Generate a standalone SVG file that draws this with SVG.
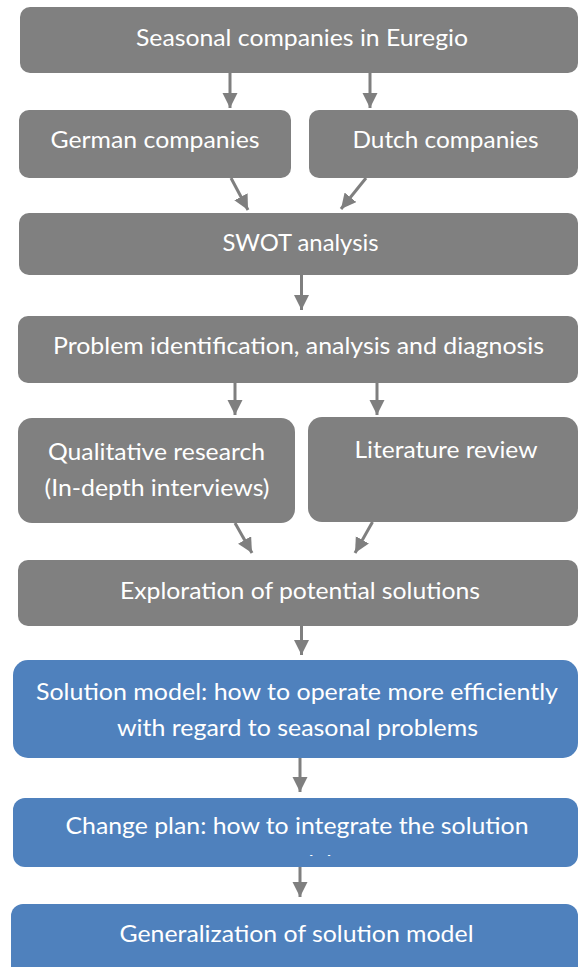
<svg xmlns="http://www.w3.org/2000/svg" width="579" height="967" viewBox="0 0 579 967">
  <defs>
    <style>
      .g { fill: #808080; }
      .b { fill: #4F81BD; }
      .t { font-family: Lato, "Open Sans", "Liberation Sans", sans-serif; font-size: 23.5px; fill: #FFFFFF; text-anchor: middle; }
      .c { stroke: #7F7F7F; stroke-width: 3; fill: none; marker-end: url(#ah); }
    </style>
    <marker id="ah" markerUnits="userSpaceOnUse" markerWidth="16" markerHeight="16" viewBox="0 0 16 16" refX="15" refY="7.5" orient="auto">
      <path d="M0,0 L15,7.5 L0,15 z" fill="#7F7F7F"/>
    </marker>
    <clipPath id="clipModel">
      <rect x="0" y="840" width="579" height="16"/>
    </clipPath>
  </defs>
  <rect x="0" y="0" width="579" height="967" fill="#FFFFFF"/>

  <g id="connectors">
    <line class="c" x1="230" y1="73" x2="230" y2="108"/>
    <line class="c" x1="370" y1="73" x2="370" y2="108"/>
    <line class="c" x1="231" y1="178" x2="248" y2="210"/>
    <line class="c" x1="366" y1="178" x2="341" y2="209"/>
    <line class="c" x1="301.5" y1="275" x2="301.5" y2="310"/>
    <line class="c" x1="235" y1="382" x2="235" y2="415"/>
    <line class="c" x1="377" y1="382" x2="377" y2="415"/>
    <line class="c" x1="235" y1="523" x2="252" y2="553"/>
    <line class="c" x1="372.5" y1="522" x2="355" y2="553"/>
    <line class="c" x1="301.5" y1="626" x2="301.5" y2="655"/>
    <line class="c" x1="300" y1="757" x2="300" y2="792"/>
    <line class="c" x1="300" y1="862" x2="300" y2="897"/>
  </g>

  <g id="n1">
    <rect class="g" x="20" y="7" width="558" height="66" rx="10"/>
    <text class="t" x="302" y="46" textLength="332" lengthAdjust="spacingAndGlyphs">Seasonal companies in Euregio</text>
  </g>
  <g id="n2">
    <rect class="g" x="19" y="110" width="272" height="68" rx="10"/>
    <text class="t" x="155" y="148" textLength="209" lengthAdjust="spacingAndGlyphs">German companies</text>
  </g>
  <g id="n3">
    <rect class="g" x="309" y="110" width="269" height="68" rx="10"/>
    <text class="t" x="445.5" y="148" textLength="186" lengthAdjust="spacingAndGlyphs">Dutch companies</text>
  </g>
  <g id="n4">
    <rect class="g" x="19" y="213" width="559" height="62" rx="10"/>
    <text class="t" x="300.5" y="251" textLength="156" lengthAdjust="spacingAndGlyphs">SWOT analysis</text>
  </g>
  <g id="n5">
    <rect class="g" x="18" y="316" width="560" height="67" rx="10"/>
    <text class="t" x="298.5" y="354" textLength="491" lengthAdjust="spacingAndGlyphs">Problem identification, analysis and diagnosis</text>
  </g>
  <g id="n6">
    <rect class="g" x="18" y="418" width="277" height="105" rx="14"/>
    <text class="t" x="156.5" y="460" textLength="217" lengthAdjust="spacingAndGlyphs">Qualitative research</text>
    <text class="t" x="157" y="496" textLength="225" lengthAdjust="spacingAndGlyphs">(In-depth interviews)</text>
  </g>
  <g id="n7">
    <rect class="g" x="308" y="417" width="270" height="105" rx="14"/>
    <text class="t" x="446" y="458" textLength="183" lengthAdjust="spacingAndGlyphs">Literature review</text>
  </g>
  <g id="n8">
    <rect class="g" x="18" y="560" width="560" height="66" rx="10"/>
    <text class="t" x="300" y="599" textLength="360" lengthAdjust="spacingAndGlyphs">Exploration of potential solutions</text>
  </g>
  <g id="n9">
    <rect class="b" x="13" y="660" width="565" height="98" rx="15"/>
    <text class="t" x="297" y="700" textLength="522" lengthAdjust="spacingAndGlyphs">Solution model: how to operate more efficiently</text>
    <text class="t" x="297.5" y="736" textLength="361" lengthAdjust="spacingAndGlyphs">with regard to seasonal problems</text>
  </g>
  <g id="n10">
    <rect class="b" x="13" y="798" width="565" height="69" rx="12"/>
    <text class="t" x="297" y="834" textLength="463" lengthAdjust="spacingAndGlyphs">Change plan: how to integrate the solution</text>
    <text class="t" x="300" y="872" clip-path="url(#clipModel)">model</text>
  </g>
  <g id="n11">
    <rect class="b" x="11" y="904" width="567" height="80" rx="12"/>
    <text class="t" x="296.5" y="942" textLength="354" lengthAdjust="spacingAndGlyphs">Generalization of solution model</text>
  </g>
</svg>
